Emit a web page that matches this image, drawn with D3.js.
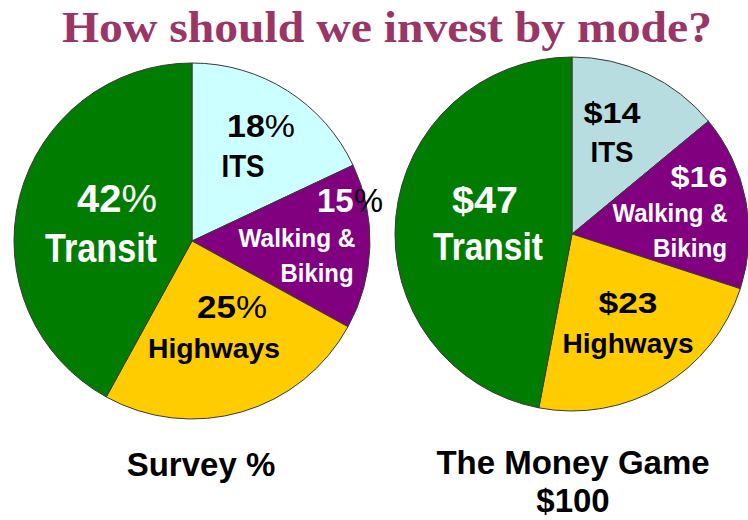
<!DOCTYPE html>
<html>
<head>
<meta charset="utf-8">
<script src="https://cdn.jsdelivr.net/npm/d3@7"></script>
<style>
  body { margin: 0; background: #fff; }
  svg { display: block; }
  .lbl { font-family: "Liberation Sans", Arial, sans-serif; font-weight: bold; }
</style>
</head>
<body>
<svg id="chart" width="748" height="520"></svg>
<script>
(function () {
  var width = 748,
    height = 520;

  // data
  const modes = ["ITS", "Walking & Biking", "Highways", "Transit"];
  const nameLines = [["ITS"], ["Walking &", "Biking"], ["Highways"], ["Transit"]];
  const surveyPct = [18, 15, 25, 42];
  const moneyGame = [14, 16, 23, 47];
  const pieTitles = [["Survey %"], ["The Money Game", "$100"]];

  // slice colours for each pie
  const surveyColors = ["#ccffff", "#800080", "#ffcc00", "#007c00"];
  const moneyColors = ["#b8dde0", "#800080", "#ffcc00", "#007c00"];
  const textColors = ["#000", "#fff", "#000", "#fff"];

  // label layout: [value line, name lines...] as [x, baseline, size, width]
  const surveyLayout = [
    [[261, 137, 32, 68], [243, 177, 32, 43]],
    [[350, 212, 33, 66], [297, 247, 25, 117], [317, 282, 25, 73]],
    [[232, 318, 32, 70], [214, 358, 28, 132]],
    [[117, 212, 38, 80], [101, 262, 41, 112]]
  ];
  const moneyLayout = [
    [[612, 123, 30, 57], [612, 162, 30, 43]],
    [[699, 187, 30, 57], [670, 222, 26, 115], [690, 257, 26, 74]],
    [[628, 313, 30, 59], [628, 353, 28, 131]],
    [[485, 213, 36, 66], [488, 260, 39, 110]]
  ];

  var svg = d3.select("#chart");

  // title
  svg.append("text")
    .attr("x", 62)
    .attr("y", 42)
    .attr("textLength", 650)
    .attr("lengthAdjust", "spacingAndGlyphs")
    .style("font-family", "'Liberation Serif', 'Times New Roman', serif")
    .style("font-weight", "bold")
    .style("font-size", "45px")
    .style("fill", "#9a3666")
    .text("How should we invest by mode?");

  var pie = d3.pie().sort(null).value((d) => d);

  function drawPie(values, colors, layout, cx, cy, r, fmt, caption, capX, capY) {
    var g = svg.append("g");
    var arc = d3.arc().innerRadius(0).outerRadius(r);

    g.append("g")
      .attr("transform", `translate(${cx},${cy})`)
      .selectAll("path")
      .data(pie(values))
      .join("path")
      .attr("d", arc)
      .attr("fill", (d, i) => colors[i])
      .attr("stroke", "#3a3a3a")
      .attr("stroke-width", 1);

    // labels
    values.forEach((v, i) => {
      var lines = layout[i];
      var val = lines[0];
      var t = g.append("text")
        .attr("class", "lbl")
        .attr("x", val[0])
        .attr("y", val[1])
        .attr("text-anchor", "middle")
        .attr("textLength", val[3])
        .attr("lengthAdjust", "spacingAndGlyphs")
        .style("font-size", val[2] + "px")
        .style("fill", textColors[i]);
      fmt(t, v, i);

      nameLines[i].forEach((name, j) => {
        var L = lines[j + 1];
        g.append("text")
          .attr("class", "lbl")
          .attr("x", L[0])
          .attr("y", L[1])
          .attr("text-anchor", "middle")
          .attr("textLength", L[3])
          .attr("lengthAdjust", "spacingAndGlyphs")
          .style("font-size", L[2] + "px")
          .style("fill", textColors[i])
          .text(name);
      });
    });

    caption.forEach((c, j) => {
      g.append("text")
        .attr("class", "lbl")
        .attr("x", capX)
        .attr("y", capY + j * 38)
        .attr("text-anchor", "middle")
        .style("font-size", "33px")
        .style("fill", "#000")
        .text(c);
    });
  }

  // Survey %: number bold, % sign lighter; the "15%" sign sits outside on white
  drawPie(surveyPct, surveyColors, surveyLayout, 192, 241, 178, (t, v, i) => {
    t.append("tspan").text(v);
    t.append("tspan")
      .style("font-weight", "normal")
      .style("fill", i === 1 ? "#000" : textColors[i])
      .text("%");
  }, pieTitles[0], 201, 476);

  drawPie(moneyGame, moneyColors, moneyLayout, 572, 234, 177, (t, v) => {
    t.text("$" + v);
  }, pieTitles[1], 573, 474);
})();
</script>
</body>
</html>
